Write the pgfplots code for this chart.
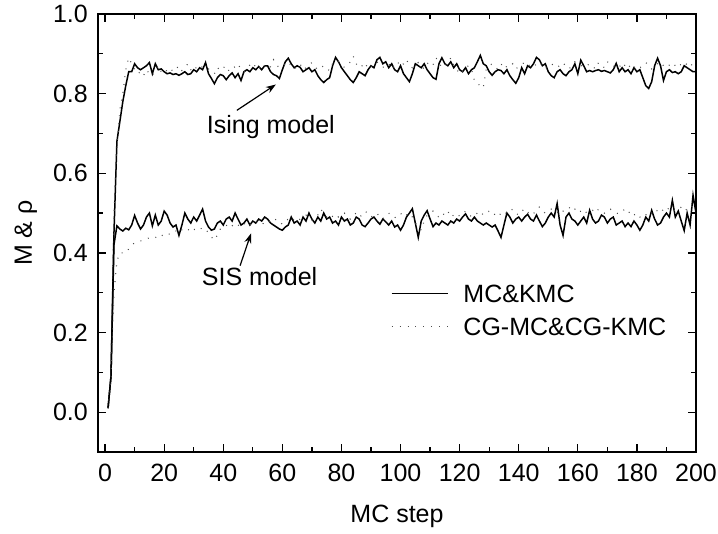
\documentclass[border=0pt]{standalone}
\usepackage{fontspec}
\setmainfont{Liberation Sans}
\usepackage{pgfplots}
\usepackage{pgfplotstable}
\pgfplotsset{compat=1.18}
\usetikzlibrary{arrows.meta}

% x: MC step; is/id: Ising solid/dotted; ss/sd: SIS solid/dotted
\pgfplotstableread{
x is id ss sd
1 0.01 0.01 0.01 0.01
2 0.09 0.10 0.09 0.09
3 0.45 0.50 0.42 0.30
4 0.68 0.66 0.468 0.38
5 0.73 0.76 0.46 0.40
6 0.78 0.80 0.455 0.40
7 0.82 0.86 0.462 0.40
8 0.855 0.89 0.458 0.41
9 0.855 0.875 0.47 0.42
10 0.875 0.86 0.494 0.425
11 0.865 0.85 0.475 0.428
12 0.86 0.855 0.46 0.43
13 0.865 0.845 0.47 0.432
14 0.87 0.86 0.49 0.435
15 0.878 0.85 0.50 0.438
16 0.85 0.845 0.468 0.44
17 0.875 0.86 0.495 0.438
18 0.86 0.87 0.47 0.445
19 0.862 0.855 0.48 0.442
20 0.855 0.85 0.505 0.448
21 0.85 0.86 0.495 0.45
22 0.852 0.865 0.475 0.446
23 0.848 0.855 0.465 0.452
24 0.85 0.862 0.47 0.455
25 0.846 0.87 0.444 0.45
26 0.85 0.858 0.47 0.458
27 0.855 0.865 0.50 0.455
28 0.848 0.875 0.485 0.46
29 0.85 0.86 0.475 0.452
30 0.86 0.855 0.49 0.458
31 0.855 0.868 0.48 0.462
32 0.865 0.872 0.495 0.465
33 0.86 0.865 0.51 0.458
34 0.878 0.86 0.48 0.46
35 0.85 0.862 0.465 0.45
36 0.838 0.855 0.457 0.44
37 0.825 0.85 0.46 0.432
38 0.84 0.866 0.475 0.445
39 0.848 0.858 0.48 0.46
40 0.845 0.865 0.47 0.465
41 0.835 0.87 0.485 0.47
42 0.845 0.856 0.49 0.462
43 0.852 0.862 0.48 0.468
44 0.84 0.868 0.50 0.475
45 0.85 0.875 0.485 0.47
46 0.833 0.86 0.47 0.465
47 0.855 0.855 0.475 0.472
48 0.86 0.862 0.485 0.478
49 0.855 0.872 0.47 0.47
50 0.865 0.878 0.48 0.475
51 0.86 0.866 0.475 0.48
52 0.868 0.86 0.485 0.475
53 0.86 0.875 0.48 0.47
54 0.87 0.87 0.49 0.478
55 0.87 0.862 0.485 0.482
56 0.855 0.868 0.475 0.475
57 0.848 0.885 0.47 0.48
58 0.845 0.872 0.465 0.485
59 0.838 0.865 0.46 0.478
60 0.86 0.868 0.457 0.472
61 0.88 0.875 0.465 0.48
62 0.889 0.88 0.47 0.485
63 0.875 0.87 0.49 0.49
64 0.865 0.862 0.475 0.482
65 0.87 0.868 0.48 0.478
66 0.866 0.875 0.47 0.485
67 0.855 0.86 0.49 0.49
68 0.86 0.865 0.48 0.495
69 0.865 0.872 0.50 0.488
70 0.855 0.878 0.485 0.482
71 0.86 0.868 0.475 0.49
72 0.845 0.86 0.49 0.495
73 0.835 0.865 0.48 0.51
74 0.828 0.87 0.50 0.50
75 0.835 0.862 0.485 0.49
76 0.84 0.858 0.49 0.485
77 0.87 0.875 0.475 0.492
78 0.891 0.883 0.48 0.498
79 0.88 0.88 0.47 0.49
80 0.865 0.872 0.49 0.495
81 0.855 0.866 0.48 0.50
82 0.845 0.87 0.485 0.49
83 0.835 0.88 0.47 0.485
84 0.828 0.894 0.475 0.495
85 0.84 0.875 0.49 0.50
86 0.855 0.865 0.485 0.49
87 0.85 0.87 0.47 0.495
88 0.845 0.878 0.466 0.505
89 0.86 0.862 0.475 0.498
90 0.87 0.868 0.485 0.49
91 0.865 0.875 0.49 0.495
92 0.885 0.88 0.48 0.50
93 0.891 0.872 0.472 0.49
94 0.875 0.866 0.485 0.485
95 0.88 0.87 0.478 0.495
96 0.865 0.876 0.47 0.50
97 0.875 0.862 0.48 0.492
98 0.86 0.87 0.465 0.488
99 0.855 0.88 0.47 0.495
100 0.87 0.868 0.457 0.50
101 0.85 0.875 0.47 0.49
102 0.84 0.886 0.49 0.495
103 0.83 0.87 0.50 0.50
104 0.85 0.865 0.511 0.49
105 0.875 0.872 0.475 0.475
106 0.87 0.878 0.439 0.465
107 0.865 0.868 0.48 0.457
108 0.875 0.862 0.495 0.48
109 0.86 0.875 0.506 0.495
110 0.85 0.88 0.485 0.50
111 0.84 0.872 0.466 0.505
112 0.836 0.89 0.475 0.495
113 0.875 0.878 0.47 0.49
114 0.89 0.865 0.48 0.50
115 0.875 0.87 0.475 0.495
116 0.87 0.875 0.47 0.505
117 0.88 0.89 0.48 0.49
118 0.865 0.872 0.475 0.495
119 0.875 0.862 0.485 0.50
120 0.86 0.848 0.48 0.492
121 0.855 0.855 0.49 0.498
122 0.865 0.865 0.498 0.505
123 0.85 0.87 0.485 0.50
124 0.86 0.862 0.48 0.49
125 0.865 0.833 0.49 0.495
126 0.88 0.83 0.48 0.50
127 0.896 0.816 0.475 0.505
128 0.875 0.815 0.47 0.495
129 0.87 0.862 0.475 0.50
130 0.855 0.87 0.47 0.505
131 0.846 0.875 0.465 0.506
132 0.855 0.868 0.47 0.495
133 0.86 0.86 0.455 0.49
134 0.858 0.872 0.439 0.50
135 0.85 0.878 0.47 0.505
136 0.86 0.865 0.50 0.498
137 0.845 0.87 0.49 0.505
138 0.835 0.875 0.475 0.51
139 0.826 0.862 0.485 0.50
140 0.84 0.868 0.49 0.495
141 0.865 0.872 0.48 0.505
142 0.85 0.88 0.49 0.51
143 0.87 0.875 0.497 0.50
144 0.865 0.868 0.485 0.505
145 0.875 0.866 0.48 0.498
146 0.891 0.875 0.495 0.51
147 0.885 0.88 0.48 0.515
148 0.87 0.87 0.466 0.505
149 0.875 0.862 0.475 0.50
150 0.855 0.868 0.49 0.505
151 0.845 0.875 0.50 0.51
152 0.84 0.87 0.49 0.505
153 0.855 0.865 0.524 0.50
154 0.86 0.872 0.47 0.51
155 0.85 0.878 0.444 0.505
156 0.845 0.868 0.49 0.51
157 0.855 0.862 0.50 0.515
158 0.86 0.87 0.485 0.505
159 0.875 0.88 0.48 0.51
160 0.85 0.875 0.47 0.50
161 0.884 0.872 0.48 0.505
162 0.87 0.866 0.49 0.51
163 0.855 0.87 0.475 0.50
164 0.858 0.875 0.507 0.505
165 0.855 0.868 0.485 0.507
166 0.858 0.862 0.475 0.50
167 0.86 0.878 0.48 0.51
168 0.856 0.872 0.495 0.505
169 0.858 0.865 0.49 0.50
170 0.855 0.88 0.475 0.508
171 0.852 0.875 0.485 0.51
172 0.86 0.868 0.49 0.505
173 0.876 0.872 0.47 0.50
174 0.855 0.866 0.475 0.498
175 0.865 0.878 0.48 0.505
176 0.855 0.87 0.466 0.51
177 0.86 0.862 0.475 0.50
178 0.85 0.875 0.466 0.505
179 0.865 0.868 0.48 0.495
180 0.855 0.86 0.47 0.50
181 0.86 0.865 0.457 0.49
182 0.84 0.87 0.47 0.487
183 0.82 0.878 0.49 0.495
184 0.813 0.872 0.48 0.505
185 0.83 0.862 0.507 0.50
186 0.87 0.868 0.485 0.51
187 0.889 0.875 0.47 0.505
188 0.87 0.88 0.475 0.50
189 0.833 0.87 0.49 0.51
190 0.855 0.865 0.50 0.505
191 0.86 0.872 0.49 0.515
192 0.853 0.878 0.532 0.51
193 0.855 0.87 0.49 0.505
194 0.85 0.865 0.505 0.51
195 0.855 0.875 0.48 0.515
196 0.87 0.88 0.456 0.505
197 0.865 0.872 0.50 0.51
198 0.86 0.866 0.47 0.52
199 0.855 0.878 0.545 0.515
200 0.855 0.87 0.50 0.51
}\data

\begin{document}
\begin{tikzpicture}
\begin{axis}[
  scale only axis,
  width=598pt, height=438pt,
  xmin=-2.4, xmax=200, ymin=-0.1, ymax=1.0,
  xtick={0,20,...,200}, minor x tick num=1,
  ytick={0,0.2,0.4,0.6,0.8,1.0}, minor y tick num=1,
  tick align=inside,
  major tick length=8pt, minor tick length=5pt,
  every tick/.style={black, line width=1.2pt},
  axis line style={line width=1.5pt},
  font=\fontsize{25}{29}\selectfont,
  /pgf/number format/assume math mode=true,
  yticklabel style={/pgf/number format/fixed, /pgf/number format/fixed zerofill,
    /pgf/number format/precision=1, anchor=east, inner sep=0pt, xshift=-10pt},
  xticklabel style={anchor=north, inner sep=0pt, yshift=-12pt},
  xlabel={MC step}, ylabel={M \& ρ},
  every axis x label/.style={at={(rel axis cs:0.5,0)}, anchor=base, yshift=-71pt},
  every axis y label/.style={at={(rel axis cs:0,0.5)}, rotate=90, anchor=base, yshift=66pt},
  legend style={draw=none, fill=none, at={(axis cs:96.7,0.321)}, anchor=north west,
    inner sep=0pt, row sep=15pt, column sep=15pt,
    nodes={inner sep=0pt, text height=18pt, text depth=0pt, anchor=base west},
    font=\fontsize{25}{29}\selectfont},
  legend image code/.code={\draw[#1] (0pt,9pt) -- (56pt,9pt);},
  legend cell align=left,
]
\coordinate (sw) at (rel axis cs:0,0);
\coordinate (ne) at (rel axis cs:1,1);
\addplot[black, line width=1.5pt] table[x=x, y=is] {\data};
\addlegendentry{MC\&KMC}
\addplot[black!70, line width=1.1pt, dash pattern=on 0.9pt off 7pt, forget plot] table[x=x, y=id] {\data};
\addplot[black, line width=1.5pt, forget plot] table[x=x, y=ss] {\data};
\addplot[black!70, line width=1.1pt, dash pattern=on 0.9pt off 7pt] table[x=x, y=sd] {\data};
\addlegendentry{CG-MC\&CG-KMC}
\node[anchor=base west, inner sep=0pt] at (axis cs:34.4,0.700) {Ising model};
\draw[line width=1.2pt, -{Stealth[length=10pt,width=7pt]}] (axis cs:44.6,0.758) -- (axis cs:57.8,0.823);
\node[anchor=base west, inner sep=0pt] at (axis cs:32.7,0.318) {SIS model};
\draw[line width=1.2pt, -{Stealth[length=10pt,width=7pt]}] (axis cs:45.7,0.368) -- (axis cs:49.4,0.449);
\end{axis}
\path ([shift={(-98pt,-82pt)}]sw) rectangle ([shift={(22pt,14pt)}]ne);
\end{tikzpicture}
\end{document}
